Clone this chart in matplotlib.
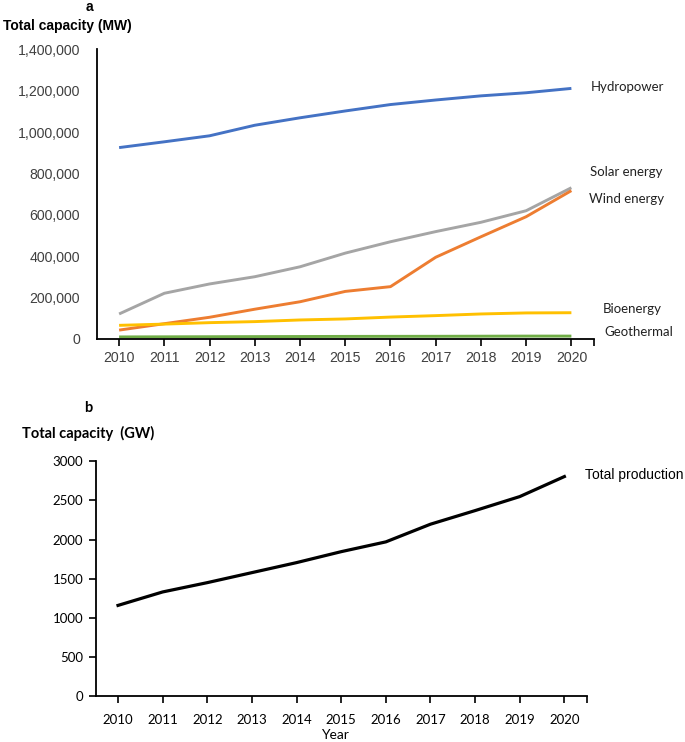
import numpy as np
import matplotlib
matplotlib.use("Agg")
import matplotlib.pyplot as plt

# Data
years = [2010, 2011, 2012, 2013, 2014, 2015, 2016, 2017, 2018, 2019, 2020]
hydropower = [925000, 953000, 982000, 1033000, 1069000, 1102000, 1133000, 1155000, 1175000, 1190000, 1211000]
solar = [121000, 221000, 266000, 301000, 349000, 415000, 470000, 519000, 564000, 620000, 731000]
wind = [43000, 74000, 105000, 144000, 180000, 230000, 253000, 395000, 494000, 591000, 717000]
bioenergy = [66000, 72000, 79000, 84000, 92000, 97000, 106000, 113000, 121000, 126000, 127000]
geothermal = [10000, 10500, 11000, 11500, 12000, 12500, 12800, 13000, 13500, 14000, 14000]
total_production = [1158, 1330, 1449, 1577, 1705, 1845, 1970, 2196, 2370, 2549, 2805]

W, H = 685, 742
ARIAL = "Liberation Sans"
CALIBRI = "Lato"


def fx(x):
    return x / W


def fy(y):
    return 1 - y / H


fig = plt.figure(figsize=(W / 100, H / 100), dpi=100)

# ---- panel a ----
ax1 = fig.add_axes([fx(96.5), fy(339), fx(594) - fx(96.5), fy(49.3) - fy(339)])
series = [
    (hydropower, "#4472C4"),
    (solar, "#A5A5A5"),
    (wind, "#ED7D31"),
    (bioenergy, "#FFC000"),
    (geothermal, "#70AD47"),
]
for vals, col in series:
    ax1.plot(years, vals, color=col, lw=2.1, solid_capstyle="butt")
ax1.set_xlim(2009.5, 2020.5)
ax1.set_ylim(0, 1400000)
ax1.set_yticks(np.arange(0, 1400001, 200000))
ax1.set_yticklabels([f"{v:,}" for v in range(0, 1400001, 200000)], fontfamily=ARIAL, fontsize=10.2)
ax1.set_xticks(years)
ax1.set_xticklabels([str(y) for y in years], fontfamily=ARIAL, fontsize=10.2)
ax1.set_xticks([2020.5], minor=True)
ax1.tick_params(axis="y", length=0, pad=12, colors="#404040")
ax1.tick_params(axis="x", which="both", length=5, width=1.2, pad=4, colors="black")
for lab in ax1.get_xticklabels():
    lab.set_color("#404040")
ax1.spines[["top", "right"]].set_visible(False)
ax1.spines["left"].set_linewidth(1.3)
ax1.spines["bottom"].set_linewidth(1.3)

fig.text(fx(89), fy(7), "a", fontfamily=ARIAL, fontweight="bold", fontsize=10, ha="center", va="center")
fig.text(fx(3), fy(26), "Total capacity (MW)", fontfamily=ARIAL, fontweight="bold", fontsize=10,
         ha="left", va="center")

labels_a = [
    ("Hydropower", 591, 86.7),
    ("Solar energy", 590, 171.7),
    ("Wind energy", 589, 199.3),
    ("Bioenergy", 603, 309),
    ("Geothermal", 604, 331.7),
]
for txt, x, y in labels_a:
    fig.text(fx(x), fy(y), txt, fontfamily=CALIBRI, fontsize=9.5, ha="left", va="center", color="#222222")

# ---- panel b ----
ax2 = fig.add_axes([fx(95.7), fy(696), fx(586.7) - fx(95.7), fy(461.3) - fy(696)])
ax2.plot(years, total_production, color="black", lw=2.3)
ax2.set_xlim(2009.5, 2020.5)
ax2.set_ylim(0, 3000)
ax2.set_yticks(np.arange(0, 3001, 500))
ax2.set_yticklabels([str(v) for v in range(0, 3001, 500)], fontfamily=CALIBRI, fontsize=9.5)
ax2.set_xticks(years)
ax2.set_xticklabels([str(y) for y in years], fontfamily=CALIBRI, fontsize=9.5)
ax2.set_xticks([2020.5], minor=True)
ax2.tick_params(axis="both", which="both", length=5, width=1.2, pad=4)
ax2.tick_params(axis="x", pad=8)
ax2.spines[["top", "right"]].set_visible(False)
ax2.spines["left"].set_linewidth(1.3)
ax2.spines["bottom"].set_linewidth(1.3)

fig.text(fx(88), fy(408), "b", fontfamily=CALIBRI, fontweight="bold", fontsize=10.5, ha="center", va="center")
fig.text(fx(21.7), fy(433), "Total capacity  (GW)", fontfamily=CALIBRI, fontweight="bold", fontsize=10.5,
         ha="left", va="center")
fig.text(fx(585), fy(475), "Total production", fontfamily=ARIAL, fontsize=10, ha="left", va="center")
fig.text(fx(335), fy(735), "Year", fontfamily=CALIBRI, fontsize=10, ha="center", va="center")

fig.savefig("out.png", dpi=100)
